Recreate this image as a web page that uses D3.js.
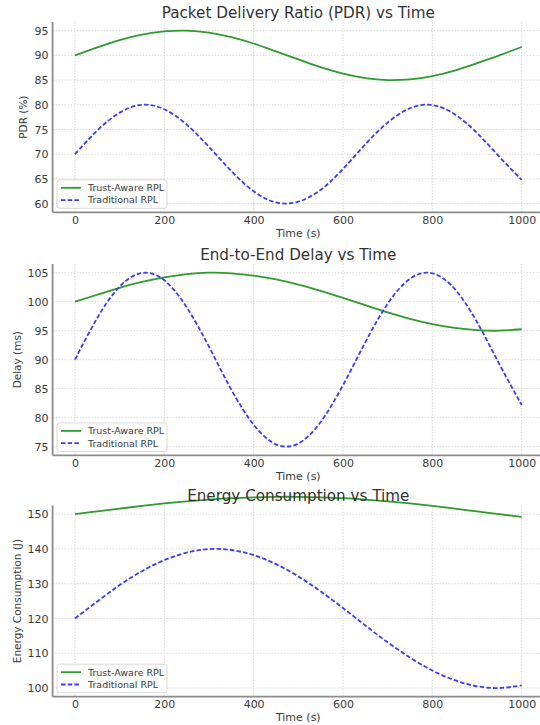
<!DOCTYPE html>
<html>
<head>
<meta charset="utf-8">
<script src="https://cdn.jsdelivr.net/npm/d3@7"></script>
<style>
  body { margin: 0; background: #fff; }
  svg { font-family: "DejaVu Sans", sans-serif; display: block; }
</style>
</head>
<body>
<svg id="chart" width="540" height="725"></svg>
<script>
// values, every 50 s
const timeSec = [0, 50, 100, 150, 200, 250, 300, 350, 400, 450, 500, 550, 600, 650, 700, 750, 800, 850, 900, 950, 1000];

const pdrTrust = [90, 91.6, 93.1, 94.2, 94.85, 95, 94.6, 93.7, 92.4, 90.8, 89.2, 87.6, 86.3, 85.4, 85, 85.15, 85.8, 86.9, 88.4, 90, 91.7];
const pdrTraditional = [70, 74.8, 78.4, 80, 79.1, 76, 71.5, 66.6, 62.5, 60.25, 60.4, 62.8, 67, 72, 76.4, 79.3, 79.95, 78.1, 74.3, 69.5, 64.8];

const delayTrust = [100, 101.2, 102.4, 103.4, 104.2, 104.75, 105, 104.9, 104.5, 103.85, 102.95, 101.85, 100.65, 99.4, 98.15, 97.05, 96.15, 95.5, 95.1, 95, 95.25];
const delayTraditional = [90, 97.2, 102.6, 104.95, 103.7, 99.05, 92.25, 84.85, 78.8, 75.4, 75.55, 79.25, 85.6, 93, 99.65, 103.95, 104.9, 102.2, 96.5, 89.25, 82.2];

const energyTrust = [150, 150.8, 151.6, 152.4, 153.1, 153.7, 154.2, 154.6, 154.85, 155, 155, 154.85, 154.6, 154.2, 153.7, 153.1, 152.4, 151.6, 150.8, 150, 149.2];
const energyTraditional = [120, 124.9, 129.6, 133.6, 136.8, 138.95, 139.95, 139.7, 138.2, 135.65, 132.1, 127.8, 123, 118, 113.15, 108.75, 105.05, 102.25, 100.5, 100, 100.75];

const seriesNames = ["Trust-Aware RPL", "Traditional RPL"];
const xTicks = [0, 200, 400, 600, 800, 1000];
const pdrTicks = [60, 65, 70, 75, 80, 85, 90, 95];
const delayTicks = [75, 80, 85, 90, 95, 100, 105];
const energyTicks = [100, 110, 120, 130, 140, 150];

const titles = ["Packet Delivery Ratio (PDR) vs Time", "End-to-End Delay vs Time", "Energy Consumption vs Time"];
const yLabels = ["PDR (%)", "Delay (ms)", "Energy Consumption (J)"];

const panels = [
  { title: titles[0], ylabel: yLabels[0], ticks: pdrTicks, series: [pdrTrust, pdrTraditional], top: 22, bottom: 212.3, ylx: 23.5 },
  { title: titles[1], ylabel: yLabels[1], ticks: delayTicks, series: [delayTrust, delayTraditional], top: 264, bottom: 455.4, ylx: 17 },
  { title: titles[2], ylabel: yLabels[2], ticks: energyTicks, series: [energyTrust, energyTraditional], top: 505.5, bottom: 696.7, ylx: 17 }
];

const colors = ["#2f9a2f", "#3b3bff"];
const dashes = [null, "4.5,2.2"];
const left = 52.6, right = 544;

const svg = d3.select("#chart");

const x = d3.scaleLinear().domain([-50, 1050]).range([left, right]);

panels.forEach(function(p) {
  // matplotlib style 5% padding around the data range
  const lo = d3.min(p.ticks), hi = d3.max(p.ticks);
  const pad = (hi - lo) * 0.05;
  const y = d3.scaleLinear().domain([lo - pad, hi + pad]).range([p.bottom, p.top]);

  const g = svg.append("g");

  // grid
  g.append("g")
    .selectAll("line.vgrid")
    .data(xTicks)
    .enter().append("line")
    .attr("x1", d => x(d)).attr("x2", d => x(d))
    .attr("y1", p.top).attr("y2", p.bottom)
    .attr("stroke", "#d0d0d0").attr("stroke-width", 0.8)
    .attr("stroke-dasharray", "1.5,1.5");

  g.append("g")
    .selectAll("line.hgrid")
    .data(p.ticks)
    .enter().append("line")
    .attr("x1", left).attr("x2", right)
    .attr("y1", d => y(d)).attr("y2", d => y(d))
    .attr("stroke", "#d0d0d0").attr("stroke-width", 0.8)
    .attr("stroke-dasharray", "1.5,1.5");

  // axes (no tick marks, just labels)
  const xAxis = g.append("g")
    .attr("transform", "translate(0," + p.bottom + ")")
    .call(d3.axisBottom(x).tickValues(xTicks).tickFormat(d3.format("d")).tickSize(0).tickPadding(4));
  const yAxis = g.append("g")
    .attr("transform", "translate(" + left + ",0)")
    .call(d3.axisLeft(y).tickValues(p.ticks).tickFormat(d3.format("d")).tickSize(0).tickPadding(4));

  [xAxis, yAxis].forEach(function(a) {
    a.select(".domain").remove();
    a.selectAll("text")
      .attr("fill", "#3a3a3a")
      .style("font-size", "11px")
      .style("font-family", "DejaVu Sans, sans-serif");
  });

  // spines
  g.append("line")
    .attr("x1", left).attr("x2", left)
    .attr("y1", p.top).attr("y2", p.bottom)
    .attr("stroke", "#8c8c8c").attr("stroke-width", 1.8);
  g.append("line")
    .attr("x1", left).attr("x2", right)
    .attr("y1", p.bottom).attr("y2", p.bottom)
    .attr("stroke", "#8c8c8c").attr("stroke-width", 1.8);

  // lines
  const valueline = d3.line()
    .x(function(d, i) { return x(timeSec[i]); })
    .y(function(d) { return y(d); })
    .curve(d3.curveNatural);

  p.series.forEach(function(s, k) {
    g.append("path")
      .datum(s)
      .attr("fill", "none")
      .attr("stroke", colors[k])
      .attr("stroke-width", 1.8)
      .attr("stroke-dasharray", dashes[k])
      .attr("d", valueline);
  });

  // title + labels
  const cx = (left + right) / 2;
  g.append("text")
    .attr("x", cx).attr("y", p.top - 4.5)
    .attr("text-anchor", "middle")
    .attr("fill", "#333")
    .style("font-size", "15.2px")
    .text(p.title);

  g.append("text")
    .attr("x", cx).attr("y", p.bottom + 24.5)
    .attr("text-anchor", "middle")
    .attr("fill", "#3a3a3a")
    .style("font-size", "11px")
    .text("Time (s)");

  g.append("text")
    .attr("transform", "translate(" + p.ylx + "," + ((p.top + p.bottom) / 2) + ") rotate(-90)")
    .attr("text-anchor", "middle")
    .attr("dy", "0.35em")
    .attr("fill", "#3a3a3a")
    .style("font-size", "10.5px")
    .text(p.ylabel);

  // legend
  const lg = g.append("g").attr("transform", "translate(57," + (p.bottom - 32.5) + ")");
  lg.append("rect")
    .attr("width", 110).attr("height", 28.5)
    .attr("rx", 2.5)
    .attr("fill", "#fff").attr("fill-opacity", 0.85)
    .attr("stroke", "#cfcfcf").attr("stroke-width", 0.8);
  seriesNames.forEach(function(name, k) {
    const ry = 8 + k * 12.3;
    lg.append("line")
      .attr("x1", 4).attr("x2", 24)
      .attr("y1", ry).attr("y2", ry)
      .attr("stroke", colors[k]).attr("stroke-width", 1.8)
      .attr("stroke-dasharray", dashes[k]);
    lg.append("text")
      .attr("x", 31).attr("y", ry)
      .attr("dy", "0.35em")
      .attr("fill", "#3a3a3a")
      .style("font-size", "9.5px")
      .text(name);
  });
});
</script>
</body>
</html>
